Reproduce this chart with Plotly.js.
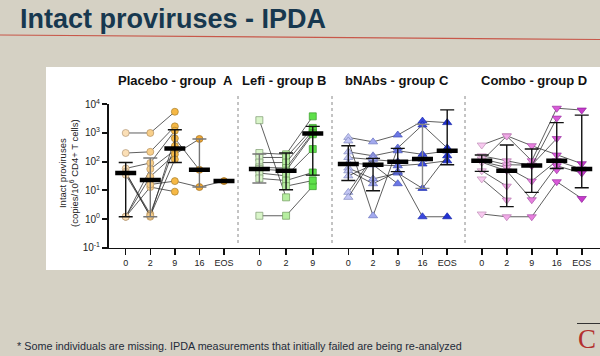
<!DOCTYPE html>
<html>
<head>
<meta charset="utf-8">
<script src="https://cdn.plot.ly/plotly-3.0.1.min.js"></script>
<style>html,body{margin:0;padding:0;background:#d5d1c4;}</style>
</head>
<body>
<div id="chart" style="width:600px;height:356px;"></div>
<script>
// ---------------- DATA ----------------
const timepointsA = ['0','2','9','16','EOS'];
const timepointsB = ['0','2','9'];
const timepointsC = ['0','2','9','16','EOS'];
const timepointsD = ['0','2','9','16','EOS'];

// individuals: values per timepoint (copies/10^6 CD4+ T cells), null = missing
const placeboIndividuals = [
  [1000, 1000, 5500, null, null],
  [200, 220, 1700, null, null],
  [58, 90, 1200, null, null],
  [45, 1.2, 650, 52, null],
  [40, 1.5, 350, null, null],
  [1.2, 55, 250, null, null],
  [1.2, 30, 180, 620, null],
  [35, 1.3, 120, null, null],
  [1.2, 13, 9, null, null],
  [null, 16, 21, 13, 21]
];
const placeboMedian = [40, 23, 290, 52, 21];
const placeboLow    = [1.2, 1.2, 93, 13, null];
const placeboHigh   = [93, 134, 1300, 620, null];

const lefiIndividuals = [
  [2800, 5.7, null],
  [1.3, 1.3, 14],
  [200, 180, 3800],
  [140, 140, 1500],
  [93, 93, 1200],
  [63, 60, 1000],
  [55, 48, 900],
  [40, 32, 275],
  [26, 22, 42],
  [null, 14, 22]
];
const lefiMedian = [55, 48, 955];
const lefiLow    = [18, 10.5, 34];
const lefiHigh   = [184, 200, 1700];

const bnabsIndividuals = [
  [700, 490, 850, 2600, 2300],
  [530, 1.3, 300, 1900, 300],
  [220, 160, 240, 180, 235],
  [140, 120, 100, 123, null],
  [90, 78, 72, 83, 107],
  [60, 25, 40, 11.7, 160],
  [48, 17, 45, 1.2, 1.2],
  [32, 78, 17, null, null],
  [8.5, 150, null, null, null],
  [5.7, 130, null, null, null]
];
const bnabsMedian = [83, 78, 100, 123, 240];
const bnabsLow    = [22, 9.7, 45, 11.7, 78];
const bnabsHigh   = [360, 130, 290, 2000, 6400];

const comboIndividuals = [
  [1.5, 1.2, 1.2, 20, 5.2],
  [380, 800, 360, 170, 85],
  [107, 780, 107, 7300, 6300],
  [160, 107, 72, 3300, null],
  [125, 78, 76, 640, null],
  [100, 63, 21, 107, 55],
  [95, 48, 4.7, 72, 40],
  [48, 14, null, 52, null],
  [25, 4.6, null, null, null]
];
const comboMedian = [107, 48, 74, 107, 55];
const comboLow    = [46, 2.7, 8.5, 58, 12.3];
const comboHigh   = [170, 380, 275, 2300, 4200];

const yTickVals = [0.1, 1, 10, 100, 1000, 10000];
const yTickText = ['10<sup>-1</sup>','10<sup>0</sup>','10<sup>1</sup>','10<sup>2</sup>','10<sup>3</sup>','10<sup>4</sup>'];

// ---------------- STYLE ----------------
const groups = [
  {ax:'x',  tp:timepointsA, ind:placeboIndividuals, med:placeboMedian, lo:placeboLow, hi:placeboHigh,
   symbol:'circle', size:7,
   colors:['#fbdfb6','#f8cf8a','#f6b845','#f2a934','#e99a22'],
   edge:['#b59a78','#b59060','#a8802e','#a07020','#986a18'],
   whisk:['#111','#777','#111','#777','#111']},
  {ax:'x2', tp:timepointsB, ind:lefiIndividuals, med:lefiMedian, lo:lefiLow, hi:lefiHigh,
   symbol:'square', size:7,
   colors:['#d9f5c9','#b6eea0','#5ee04a'],
   edge:['#7c9a70','#6e9a5a','#3a9a2a'],
   whisk:['#777','#111','#111']},
  {ax:'x3', tp:timepointsC, ind:bnabsIndividuals, med:bnabsMedian, lo:bnabsLow, hi:bnabsHigh,
   symbol:'triangle-up', size:8,
   colors:['#c3c6f4','#a2a9ee','#6c78e6','#3a48dc','#2232d2'],
   edge:['#8088c0','#6a72c0','#4450b8','#2030b0','#1020a8'],
   whisk:['#111','#111','#111','#888','#111']},
  {ax:'x4', tp:timepointsD, ind:comboIndividuals, med:comboMedian, lo:comboLow, hi:comboHigh,
   symbol:'triangle-down', size:8,
   colors:['#f7c9ef','#f0a9e7','#e780de','#d95ad8','#c83acb'],
   edge:['#c090b8','#b878b0','#a850a8','#9a30a0','#8a2098'],
   whisk:['#111','#111','#111','#111','#111']}
];

const traces = [];
groups.forEach(g => {
  g.ind.forEach(row => {
    traces.push({
      type:'scatter', mode:'lines+markers', xaxis:g.ax, yaxis:'y',
      x:g.tp, y:row, connectgaps:false, hoverinfo:'skip',
      line:{color:'#2a2a2a', width:0.75},
      marker:{symbol:g.symbol, size:g.size, color:g.colors, line:{color:g.edge, width:0.7}}
    });
  });
});
groups.forEach(g => {
  g.tp.forEach((t, i) => {
    const hasBar = g.lo[i] !== null && g.hi[i] !== null;
    traces.push({
      type:'scatter', mode:'markers', xaxis:g.ax, yaxis:'y',
      x:[t], y:[g.med[i]], hoverinfo:'skip',
      marker:{symbol:'line-ew', size:15, color:'#000', line:{color:'#000', width:4.5}},
      error_y: hasBar ? {type:'data', symmetric:false, array:[g.hi[i]-g.med[i]], arrayminus:[g.med[i]-g.lo[i]],
                color:g.whisk[i], thickness:1.4, width:7} : {visible:false}
    });
  });
});

const xBase = {
  type:'category', anchor:'y', showline:true, linecolor:'#111', linewidth:1.6,
  ticks:'outside', ticklen:6, tickwidth:1.5, tickcolor:'#111', showgrid:false, zeroline:false,
  tickfont:{size:9, color:'#222'}, fixedrange:true
};
const P = v => v/600;
const PY = v => (356 - v)/356;

const layout = {
  width:600, height:356, margin:{l:0,r:0,t:0,b:0},
  paper_bgcolor:'#d5d1c4', plot_bgcolor:'rgba(0,0,0,0)', showlegend:false,
  font:{family:'Liberation Sans, Arial, sans-serif', color:'#222'},
  yaxis:{type:'log', range:[-1,4], domain:[PY(247.7), PY(104.3)], anchor:'x',
    tickvals:yTickVals, ticktext:yTickText, showline:true, linewidth:2, linecolor:'#111',
    ticks:'outside', ticklen:5, tickwidth:2, tickcolor:'#111', showgrid:false, zeroline:false,
    tickfont:{size:10, color:'#222'}, fixedrange:true},
  xaxis: Object.assign({}, xBase, {domain:[P(109), P(238)], categoryarray:timepointsA, range:[-0.68, 4.57]}),
  xaxis2:Object.assign({}, xBase, {domain:[P(238), P(332)], categoryarray:timepointsB, range:[-0.80, 2.72]}),
  xaxis3:Object.assign({}, xBase, {domain:[P(332), P(465)], categoryarray:timepointsC, range:[-0.66, 4.72]}),
  xaxis4:Object.assign({}, xBase, {domain:[P(465), 1], categoryarray:timepointsD, range:[-0.67, 4.73]}),
  shapes:[
    {type:'rect', xref:'paper', yref:'paper', x0:P(46), x1:1, y0:PY(270), y1:PY(67), fillcolor:'#ffffff', line:{width:0}, layer:'below'},
    {type:'line', xref:'paper', yref:'paper', x0:0, x1:1, y0:PY(35), y1:PY(39.5), line:{color:'#c8584a', width:1.2}},
    {type:'line', xref:'paper', yref:'paper', x0:P(238), x1:P(238), y0:PY(243), y1:PY(95), line:{color:'#888', width:1, dash:'dot'}},
    {type:'line', xref:'paper', yref:'paper', x0:P(332), x1:P(332), y0:PY(243), y1:PY(95), line:{color:'#888', width:1, dash:'dot'}},
    {type:'line', xref:'paper', yref:'paper', x0:P(465), x1:P(465), y0:PY(243), y1:PY(95), line:{color:'#888', width:1, dash:'dot'}},
    {type:'line', xref:'paper', yref:'paper', x0:P(577), x1:1, y0:PY(323.5), y1:PY(323.5), line:{color:'#333', width:1}}
  ],
  annotations:[
    {xref:'paper', yref:'paper', x:P(18), y:PY(19), xanchor:'left', yanchor:'middle', showarrow:false,
     text:'<b>Intact proviruses - IPDA</b>', font:{size:27, color:'#17384f', family:'Liberation Sans, Arial, sans-serif'}},
    {xref:'paper', yref:'paper', x:P(175), y:PY(80), xanchor:'center', yanchor:'middle', showarrow:false,
     text:'<b>Placebo - group  A</b>', font:{size:13, color:'#111'}},
    {xref:'paper', yref:'paper', x:P(284), y:PY(80), xanchor:'center', yanchor:'middle', showarrow:false,
     text:'<b>Lefi - group B</b>', font:{size:13, color:'#111'}},
    {xref:'paper', yref:'paper', x:P(397), y:PY(80), xanchor:'center', yanchor:'middle', showarrow:false,
     text:'<b>bNAbs - group C</b>', font:{size:13, color:'#111'}},
    {xref:'paper', yref:'paper', x:P(534), y:PY(80), xanchor:'center', yanchor:'middle', showarrow:false,
     text:'<b>Combo - group D</b>', font:{size:13, color:'#111'}},
    {xref:'paper', yref:'paper', x:P(68), y:PY(173), xanchor:'center', yanchor:'middle', showarrow:false, textangle:-90,
     text:'Intact proviruses<br>(copies/10<sup>6</sup> CD4+ T cells)', font:{size:9.5, color:'#222'}},
    {xref:'paper', yref:'paper', x:P(15), y:PY(346), xanchor:'left', yanchor:'middle', showarrow:false,
     text:'* Some individuals are missing. IPDA measurements that initially failed are being re-analyzed', font:{size:10.8, color:'#1f2b3a'}},
    {xref:'paper', yref:'paper', x:P(587), y:PY(339), xanchor:'center', yanchor:'middle', showarrow:false,
     text:'C', font:{size:27, color:'#b3302e', family:'Liberation Serif, Times New Roman, serif'}}
  ]
};

Plotly.newPlot('chart', traces, layout, {displayModeBar:false, staticPlot:true});
</script>
</body>
</html>
